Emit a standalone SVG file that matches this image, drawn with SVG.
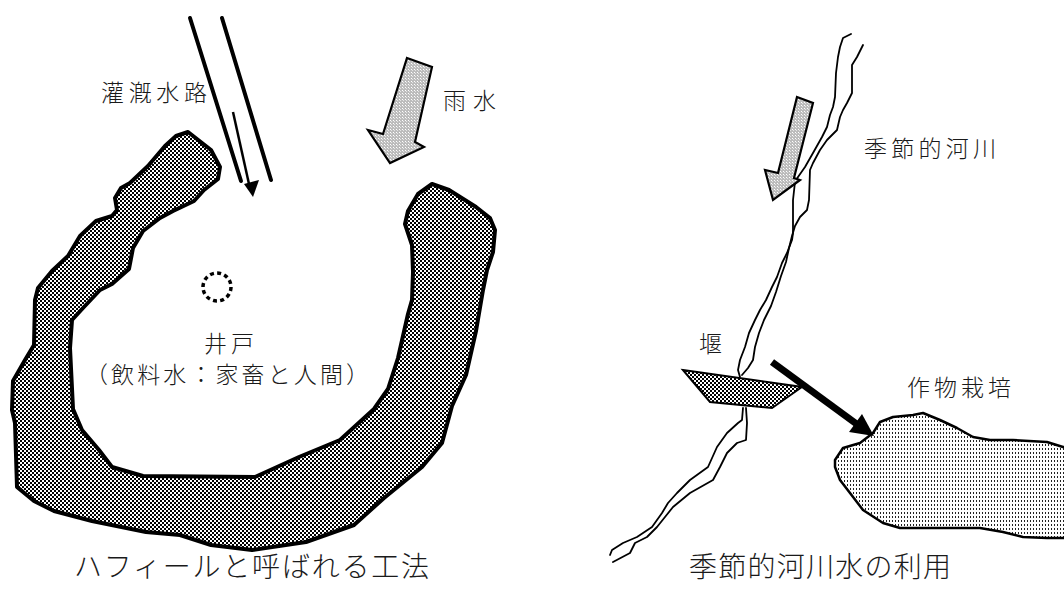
<svg xmlns="http://www.w3.org/2000/svg" width="1064" height="592" viewBox="0 0 1064 592">
  <style>
    text { font-family: "Noto Sans CJK JP", "Noto Sans CJK SC", sans-serif; font-weight: 300; fill: #1a1a1a; }
    .lbl { font-size: 23px; }
    .cap { font-size: 28px; }
    .river { fill: none; stroke: #000; stroke-width: 1.8; stroke-linejoin: round; stroke-linecap: round; }
    .bund { fill: url(#checker); stroke: #000; stroke-width: 4; stroke-linejoin: round; }
    .rain { fill: url(#rainfill); stroke: #000; stroke-width: 2.2; stroke-linejoin: miter; }
  </style>
  <defs>
    <pattern id="checker" width="4" height="4" patternUnits="userSpaceOnUse">
      <rect width="4" height="4" fill="#fff"/>
      <rect width="2" height="2" fill="#000"/>
      <rect x="2" y="2" width="2" height="2" fill="#000"/>
    </pattern>
    <pattern id="rainfill" width="3" height="3" patternUnits="userSpaceOnUse">
      <rect width="3" height="3" fill="#bcbcbc"/>
      <rect width="1" height="1" fill="#fff"/>
      <rect x="1" y="1" width="1" height="1" fill="#e4e4e4"/>
    </pattern>
    <pattern id="cropfill" width="3" height="4" patternUnits="userSpaceOnUse">
      <rect width="3" height="4" fill="#fff"/>
      <rect x="1" y="0" width="1" height="2" fill="#222"/>
    </pattern>
  </defs>

  <rect width="1064" height="592" fill="#fff"/>

  <!-- Left panel: hafir earth bund -->
  <g id="hafir-bund">
    <path class="bund" d="M188,132 L176,136 L165,146 L148,166 L130,183 L121,188 L115,198 L117,210 L112,216 L96,221 L80,236 L68,256 L52,271 L38,288 L35,300 L34,345 L25,360 L13,381 L12,410 L15,423 L17,487 L34,501 L54,511 L92,521 L146,532 L180,535 L211,545 L252,550 L306,542 L354,525 L384,498 L422,467 L442,443 L452,406 L466,375 L476,331 L483,290 L487,270 L493,252 L495,230 L490,218 L476,207 L449,190 L432,184 L418,194 L408,211 L405,224 L412,245 L413,272 L412,300 L408,314 L398,358 L388,389 L374,409 L340,440 L299,457 L255,477 L143,476 L112,467 L99,450 L82,430 L73,409 L70,348 L72,320 L83,308 L100,290 L112,284 L129,269 L133,248 L143,231 L160,218 L173,211 L194,201 L204,190 L218,179 L220,167 L211,150 Z"/>
  </g>

  <g id="well">
    <circle cx="217" cy="287" r="14" fill="none" stroke="#000" stroke-width="3.5" stroke-dasharray="4 3.3"/>
  </g>

  <g id="irrigation-channel">
    <line x1="190" y1="18" x2="241" y2="181" stroke="#000" stroke-width="4" stroke-linecap="round"/>
    <line x1="222" y1="18" x2="271" y2="180" stroke="#000" stroke-width="4" stroke-linecap="round"/>
  </g>

  <g id="rain-left">
    <path class="rain" d="M407,58 L432,67 L415,142 L424,147 L390,163 L368,130 L383,134 Z"/>
  </g>

  <g id="labels-left">
    <text class="lbl" x="101" y="101" textLength="106" lengthAdjust="spacing">灌漑水路</text>
    <text class="lbl" x="443" y="109" textLength="53" lengthAdjust="spacing">雨水</text>
    <text class="lbl" x="204" y="352" textLength="50" lengthAdjust="spacing">井戸</text>
    <text class="lbl" x="85" y="383" textLength="284" lengthAdjust="spacing">（飲料水：家畜と人間）</text>
    <text class="cap" x="74" y="577" textLength="355" lengthAdjust="spacing">ハフィールと呼ばれる工法</text>
  </g>

  <!-- Right panel: seasonal river with weir -->
  <g id="river">
    <path class="river" d="M851,34 L843,38 L840,47 L838,57 L836,73 L835,97 L833,107 L830,115 L827,127 L822,137 L813,153 L805,167 L798,177 L795,182 L793,200 L793,233 L792,240 L787,253 L782,263 L777,277 L772,287 L766,300 L760,310 L755,320 L749,333 L745,347 L740,360 L738,370 L740,377"/>
    <path class="river" d="M863,45 L857,57 L852,65 L852,93 L847,103 L843,110 L840,117 L837,130 L827,140 L820,150 L813,163 L810,170 L809,200 L807,210 L800,217 L795,226 L792,236 L789,248 L786,262 L781,276 L776,292 L771,306 L764,320 L759,333 L755,347 L753,360 L748,368 L742,375"/>
    <path class="river" d="M743,408 L742,420 L738,423 L727,433 L717,447 L708,467 L690,480 L677,493 L668,503 L662,513 L652,527 L637,537 L623,543 L612,550 L610,555"/>
    <path class="river" d="M746,408 L747,423 L746,440 L737,443 L727,453 L720,467 L713,480 L690,493 L673,507 L665,517 L657,527 L647,537 L635,543 L630,553 L613,562"/>
  </g>

  <g id="weir">
    <path d="M683,370 L802,387 L772,408 L710,402 Z" fill="url(#checker)" stroke="#000" stroke-width="2" stroke-linejoin="miter"/>
  </g>

  <g id="rain-right">
    <path class="rain" d="M797,97 L813,103 L794,178 L800,180 L773,200 L765,170 L778,173 Z"/>
  </g>

  <g id="crop-field">
    <path d="M835,460 L843,448 L860,443 L873,433 L880,422 L893,417 L913,415 L923,413 L940,420 L957,428 L973,437 L990,440 L1013,440 L1047,442 L1063,447 L1070,447 L1070,538 L1063,538 L1047,538 L1023,537 L1003,532 L980,528 L933,528 L900,528 L883,523 L863,510 L850,493 L840,480 L835,467 Z" fill="url(#cropfill)" stroke="#000" stroke-width="2.5" stroke-linejoin="round"/>
  </g>

  <g id="labels-right">
    <text class="lbl" x="864" y="157" textLength="132" lengthAdjust="spacing">季節的河川</text>
    <text class="lbl" x="699" y="352" textLength="28" lengthAdjust="spacing">堰</text>
    <text class="lbl" x="907" y="396" textLength="104" lengthAdjust="spacing">作物栽培</text>
    <text class="cap" x="689" y="577" textLength="262" lengthAdjust="spacing">季節的河川水の利用</text>
  </g>

  <g id="connectors">
    <!-- flow along the irrigation channel -->
    <line x1="233" y1="112" x2="249" y2="184" stroke="#000" stroke-width="2.5"/>
    <path d="M253,197 L244,184 L259,180 Z" fill="#000"/>
    <!-- diversion from weir to crop field -->
    <line x1="772" y1="362" x2="858" y2="425" stroke="#000" stroke-width="7"/>
    <path d="M874,436 L849,432 L862,414 Z" fill="#000"/>
  </g>
</svg>
